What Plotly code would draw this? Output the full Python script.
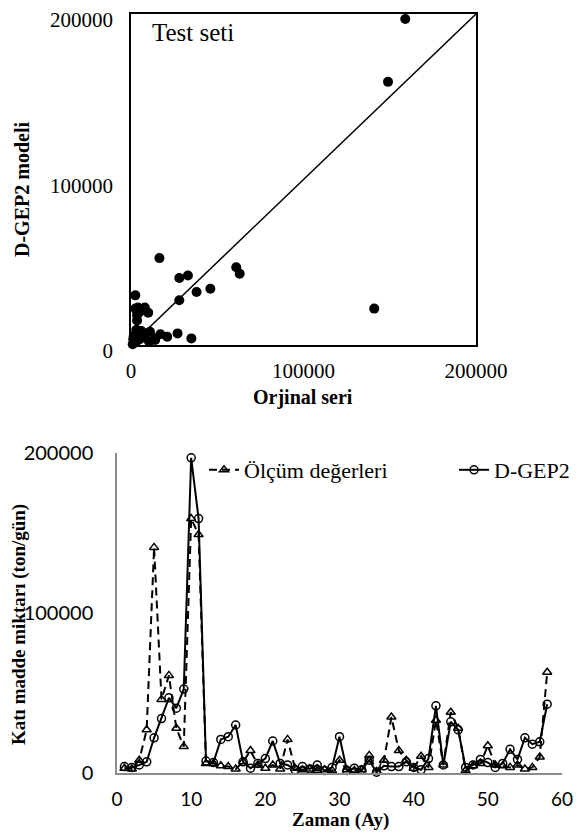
import plotly.graph_objects as go

# Time index (months)
months = list(range(1, 59))

# Measured values (Ölçüm değerleri), ton/gün
olcum = [3000, 2500, 8000, 27000, 141000, 46000, 61000, 28000, 16500, 159000,
         149000, 6000, 6000, 4500, 4000, 2500, 7000, 14000, 5000, 3000,
         5000, 2500, 21000, 3000, 2000, 2500, 1500, 2000, 1500, 8000,
         2000, 1500, 2000, 11000, 1000, 8000, 35000, 14000, 8000, 3000,
         10500, 3500, 33000, 5000, 38000, 28000, 1500, 4500, 6000, 17000,
         5000, 4500, 3500, 5000, 2500, 3500, 10000, 63000]

# D-GEP2 model values
dgep2 = [4000, 3500, 5000, 7000, 22000, 34000, 47000, 40500, 52500, 197000,
         159000, 7500, 6500, 21000, 22700, 30000, 7000, 3000, 6000, 9000,
         20000, 6000, 5000, 2000, 4000, 2500, 5000, 1500, 3500, 22700,
         1500, 3000, 2000, 8000, 500, 4500, 4000, 4000, 7000, 3500,
         2000, 9000, 42000, 5000, 32000, 27000, 3500, 5000, 8500, 6500,
         3500, 6000, 14800, 8500, 22000, 18000, 19500, 43000]

# 1:1 reference line
diag = [0, 200000]

tick_vals = [0, 100000, 200000]
tick_text = ["0", "100000", "200000"]
x_ticks_time = [0, 10, 20, 30, 40, 50, 60]

# The page body has an 8px margin, so the figure is drawn 8px in from the corner.
OFF = 8
W, H = 583 - OFF, 837 - OFF
def px(x):
    return (x - OFF) / W
def py(y):
    return 1 - (y - OFF) / H

SERIF = "Liberation Serif"
SANS = "Lato"

fig = go.Figure()

# ---- Top: scatter ----
fig.add_trace(go.Scatter(x=olcum, y=dgep2, mode="markers",
                         marker=dict(color="black", size=10),
                         xaxis="x", yaxis="y", showlegend=False, cliponaxis=False))
fig.add_trace(go.Scatter(x=diag, y=diag, mode="lines",
                         line=dict(color="black", width=1.5),
                         xaxis="x", yaxis="y", showlegend=False))

# ---- Bottom: time series ----
fig.add_trace(go.Scatter(x=months, y=olcum, mode="lines+markers",
                         name="Ölçüm değerleri", legend="legend",
                         line=dict(color="black", width=2, dash="8px,5px"),
                         marker=dict(symbol="triangle-up-open", size=8, color="black",
                                     line=dict(width=1.5, color="black")),
                         xaxis="x2", yaxis="y2", cliponaxis=False))
fig.add_trace(go.Scatter(x=months, y=dgep2, mode="lines+markers",
                         name="D-GEP2", legend="legend2",
                         line=dict(color="black", width=2),
                         marker=dict(symbol="circle-open", size=8, color="black",
                                     line=dict(width=1.5, color="black")),
                         xaxis="x2", yaxis="y2", cliponaxis=False))

title_font = dict(family=SERIF, size=20, color="black")
legend_common = dict(orientation="h", xanchor="left", yanchor="middle",
                     font=dict(family=SERIF, size=22), bgcolor="rgba(0,0,0,0)",
                     itemwidth=30)

fig.update_layout(
    width=W, height=H,
    margin=dict(l=0, r=0, t=0, b=0),
    paper_bgcolor="white", plot_bgcolor="white",
    font=dict(family=SERIF, color="black", size=18),
    xaxis=dict(domain=[px(131), px(476)], range=[0, 200000],
               tickvals=tick_vals, ticktext=tick_text,
               showgrid=False, zeroline=False, automargin=False,
               showline=True, linecolor="black", linewidth=1.5, mirror=True,
               ticks="", ticklabelstandoff=6, ticklabeloverflow="allow",
               tickfont=dict(family=SERIF, size=21),
               anchor="y"),
    yaxis=dict(domain=[py(345), py(14)], range=[0, 200000],
               tickvals=tick_vals, ticktext=tick_text,
               showgrid=False, zeroline=False, automargin=False,
               showline=True, linecolor="black", linewidth=1.5, mirror=True,
               ticks="", ticklabelstandoff=12, ticklabeloverflow="allow",
               ticklabelshift=6,
               tickfont=dict(family=SERIF, size=21),
               anchor="x"),
    xaxis2=dict(domain=[px(117), px(562)], range=[0, 60],
                tickvals=x_ticks_time,
                showgrid=False, zeroline=False, automargin=False,
                showline=True, linecolor="#8c8c8c", linewidth=1.5,
                ticks="", ticklabelstandoff=8, ticklabeloverflow="allow",
                tickfont=dict(family=SANS, size=19),
                anchor="y2"),
    yaxis2=dict(domain=[py(773), py(453)], range=[0, 200000],
                tickvals=tick_vals, ticktext=tick_text,
                showgrid=False, zeroline=False, automargin=False,
                showline=True, linecolor="#8c8c8c", linewidth=1.5,
                ticks="", ticklabelstandoff=18, ticklabeloverflow="allow",
                tickfont=dict(family=SANS, size=20),
                anchor="x2"),
    legend=dict(x=px(204), y=py(470), **legend_common),
    legend2=dict(x=px(454), y=py(470), **legend_common),
    annotations=[
        dict(text="Test seti", x=px(150), y=py(32), xref="paper", yref="paper",
             xanchor="left", yanchor="middle", showarrow=False,
             font=dict(family=SERIF, size=25, color="black")),
        dict(text="<b>Orjinal seri</b>", x=px(303), y=py(397), xref="paper", yref="paper",
             xanchor="center", yanchor="middle", showarrow=False, font=title_font),
        dict(text="<b>D-GEP2 modeli</b>", x=px(22), y=py(190), xref="paper", yref="paper",
             xanchor="center", yanchor="middle", showarrow=False, textangle=-90,
             font=title_font),
        dict(text="<b>Zaman (Ay)</b>", x=px(340), y=py(820), xref="paper", yref="paper",
             xanchor="center", yanchor="middle", showarrow=False,
             font=dict(family=SERIF, size=19, color="black")),
        dict(text="<b>Katı madde miktarı (ton/gün)</b>", x=px(19), y=py(625),
             xref="paper", yref="paper", xanchor="center", yanchor="middle",
             showarrow=False, textangle=-90,
             font=dict(family=SERIF, size=19, color="black")),
    ],
)

fig.write_html("out.html")
